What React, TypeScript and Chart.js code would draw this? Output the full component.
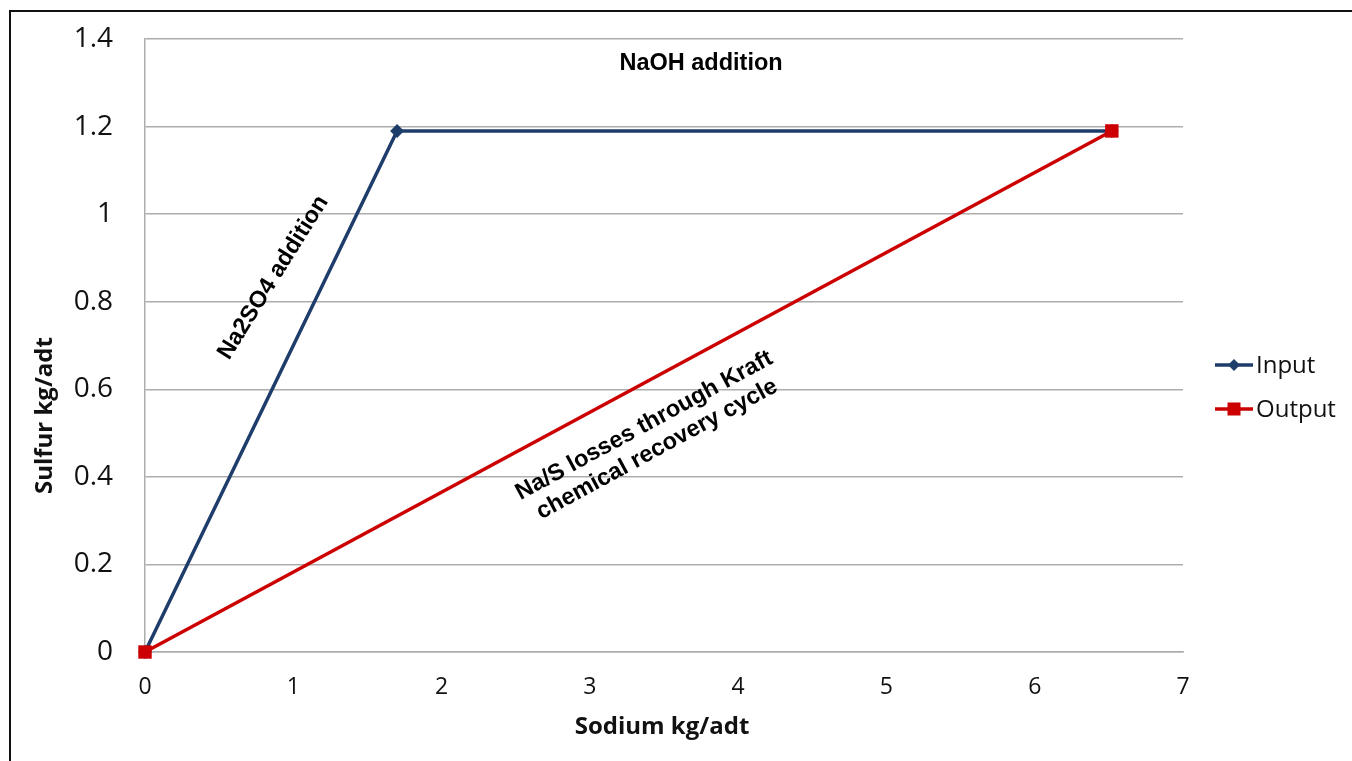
import React, { useEffect, useRef } from "react";
import { Chart, registerables } from "chart.js";

Chart.register(...registerables);

// Data
const inputX = [0, 1.7, 6.52];
const inputY = [0, 1.19, 1.19];
const outputX = [0, 6.52];
const outputY = [0, 1.19];
const seriesNames = ["Input", "Output"];
const xTitle = "Sodium kg/adt";
const yTitle = "Sulfur kg/adt";
// annotation texts with their anchor positions in data units
const noteNaOH = { text: ["NaOH addition"], x: 3.75, y: 1.343, angle: 0 };
const noteNa2SO4 = { text: ["Na2SO4 addition"], x: 0.865, y: 0.855, angle: -58 };
const noteLosses = {
  text: ["Na/S losses through Kraft", "chemical recovery cycle"],
  x: 3.41,
  y: 0.49,
  angle: -28.5,
};

const BLUE = "#1F3D6B";
const RED = "#CC0000";
const TICK_FONT = "'Open Sans', sans-serif";
const NOTE_FONT = "'Liberation Sans', Arial, sans-serif";

const overlayPlugin = {
  id: "overlay",
  afterDatasetsDraw(chart: any) {
    const ctx = chart.ctx as CanvasRenderingContext2D;
    const xs = chart.scales.x;
    const ys = chart.scales.y;
    const area = chart.chartArea;
    ctx.save();
    // annotations
    ctx.fillStyle = "#000";
    ctx.font = `bold 23.5px ${NOTE_FONT}`;
    ctx.textAlign = "center";
    ctx.textBaseline = "middle";
    for (const n of [noteNaOH, noteNa2SO4, noteLosses]) {
      const px = xs.getPixelForValue(n.x);
      const py = ys.getPixelForValue(n.y);
      ctx.save();
      ctx.translate(px, py);
      ctx.rotate((n.angle * Math.PI) / 180);
      const lh = 27;
      const start = -((n.text.length - 1) * lh) / 2;
      n.text.forEach((t, i) => ctx.fillText(t, 0, start + i * lh));
      ctx.restore();
    }
    // axis titles
    ctx.font = `bold 24px ${TICK_FONT}`;
    ctx.fillStyle = "#111";
    ctx.fillText(xTitle, (area.left + area.right) / 2 - 2, 727);
    ctx.save();
    ctx.translate(45, ys.getPixelForValue(0.54));
    ctx.rotate(-Math.PI / 2);
    ctx.fillText(yTitle, 0, 0);
    ctx.restore();
    // legend
    const lx = area.right + 32;
    const items = [
      { name: seriesNames[0], color: BLUE, style: "diamond", y: 365 },
      { name: seriesNames[1], color: RED, style: "square", y: 409 },
    ];
    ctx.font = `24px ${TICK_FONT}`;
    ctx.textAlign = "left";
    for (const it of items) {
      ctx.strokeStyle = it.color;
      ctx.lineWidth = 3.5;
      ctx.beginPath();
      ctx.moveTo(lx, it.y);
      ctx.lineTo(lx + 38, it.y);
      ctx.stroke();
      ctx.fillStyle = it.color;
      const cx = lx + 19;
      if (it.style === "diamond") {
        ctx.beginPath();
        ctx.moveTo(cx, it.y - 6);
        ctx.lineTo(cx + 6, it.y);
        ctx.lineTo(cx, it.y + 6);
        ctx.lineTo(cx - 6, it.y);
        ctx.closePath();
        ctx.fill();
      } else {
        ctx.fillRect(cx - 6.5, it.y - 6.5, 13, 13);
      }
      ctx.fillStyle = "#111";
      ctx.fillText(it.name, lx + 41, it.y + 1);
    }
    ctx.restore();
  },
};

export default function App() {
  const ref = useRef<HTMLCanvasElement>(null);
  useEffect(() => {
    if (!ref.current) return;
    const chart = new Chart(ref.current, {
      type: "line",
      data: {
        datasets: [
          {
            label: seriesNames[0],
            data: inputX.map((x, i) => ({ x, y: inputY[i] })),
            borderColor: BLUE,
            backgroundColor: BLUE,
            borderWidth: 3.5,
            pointStyle: "rectRot",
            pointRadius: 7,
            pointHoverRadius: 7,
            pointBorderWidth: 0,
            clip: false,
            order: 1,
          },
          {
            label: seriesNames[1],
            data: outputX.map((x, i) => ({ x, y: outputY[i] })),
            borderColor: RED,
            backgroundColor: RED,
            borderWidth: 3.5,
            pointStyle: "rect",
            pointRadius: 9.5,
            pointHoverRadius: 9.5,
            pointBorderWidth: 0,
            clip: false,
            order: 0,
          },
        ],
      },
      options: {
        animation: false,
        responsive: false,
        layout: { autoPadding: false, padding: { left: 0, top: 39, right: 169, bottom: 0 } },
        plugins: { legend: { display: false }, tooltip: { enabled: false } },
        scales: {
          x: {
            type: "linear",
            min: 0,
            max: 7,
            afterFit: (s: any) => {
              s.height = 109;
              s.paddingLeft = 0;
              s.paddingRight = 0;
            },
            grid: { display: false, drawTicks: false },
            border: { display: true, color: "#ADADAD", width: 1.5 },
            ticks: {
              stepSize: 1,
              padding: 22,
              color: "#111",
              font: { family: TICK_FONT, size: 23 },
            },
          },
          y: {
            type: "linear",
            min: 0,
            max: 1.4,
            afterFit: (s: any) => {
              s.width = 145;
              s.paddingTop = 0;
              s.paddingBottom = 0;
            },
            grid: { color: "#ADADAD", lineWidth: 1.5, drawTicks: false },
            border: { display: true, color: "#ADADAD", width: 1.5 },
            ticks: {
              stepSize: 0.2,
              padding: 32,
              color: "#111",
              font: { family: TICK_FONT, size: 28 },
              callback: (v: any) => String(Number(Number(v).toFixed(1))),
            },
          },
        },
      },
      plugins: [overlayPlugin],
    });
    return () => chart.destroy();
  }, []);

  return (
    <div
      style={{
        position: "fixed",
        left: 0,
        top: 0,
        width: 1352,
        height: 761,
        overflow: "hidden",
        background: "#fff",
      }}
    >
      <div
        style={{
          position: "absolute",
          left: 9,
          top: 10,
          width: 1343,
          height: 751,
          borderTop: "2px solid #111",
          borderLeft: "2px solid #111",
          boxSizing: "border-box",
        }}
      />
      <canvas
        ref={ref}
        width={1352}
        height={761}
        style={{ position: "absolute", left: 0, top: 0 }}
      />
    </div>
  );
}
